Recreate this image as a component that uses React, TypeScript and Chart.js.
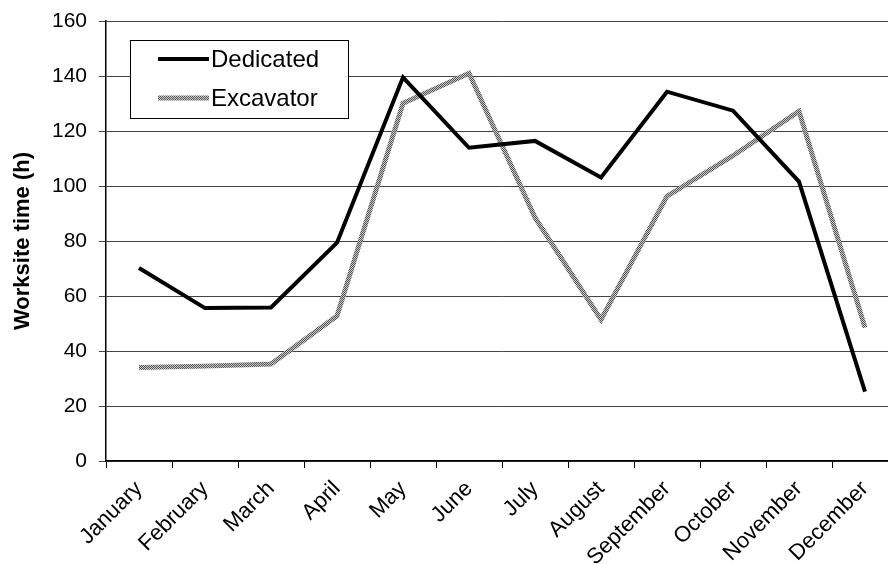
import React, { useEffect, useRef } from "react";
import Chart from "chart.js/auto";

const months = ["January", "February", "March", "April", "May", "June", "July", "August", "September", "October", "November", "December"];
const dedicated = [70.2, 55.6, 55.8, 79.4, 139.5, 113.9, 116.4, 103.1, 134.3, 127.4, 101.6, 25.2];
const excavator = [34.0, 34.5, 35.3, 52.7, 130.1, 141.0, 88.5, 51.4, 96.3, 111.0, 127.2, 48.5];
const yTicks = [0, 20, 40, 60, 80, 100, 120, 140, 160];
const seriesLabels = ["Dedicated", "Excavator"];
const yTitle = "Worksite time (h)";

const FONT = "'Liberation Sans', Arial, sans-serif";

function makePattern(): CanvasPattern | string {
  const c = document.createElement("canvas");
  c.width = 2;
  c.height = 2;
  const ctx = c.getContext("2d");
  if (!ctx) return "#999";
  ctx.fillStyle = "#c8c8c8";
  ctx.fillRect(0, 0, 2, 2);
  ctx.fillStyle = "#555";
  ctx.fillRect(0, 0, 1, 1);
  ctx.fillRect(1, 1, 1, 1);
  const p = ctx.createPattern(c, "repeat");
  return p || "#999";
}

const legendBox = {
  id: "legendBox",
  afterDraw(chart: any) {
    const ctx = chart.ctx;
    const area = chart.chartArea;
    const x0 = area.left + 24;
    const y0 = area.top + 19;
    const w = 218;
    const h = 78;
    ctx.save();
    ctx.fillStyle = "#fff";
    ctx.fillRect(x0, y0, w, h);
    ctx.strokeStyle = "#000";
    ctx.lineWidth = 1;
    ctx.strokeRect(x0 + 0.5, y0 + 0.5, w, h);
    const rows = [y0 + 19, y0 + 58];
    chart.data.datasets.forEach((ds: any, i: number) => {
      ctx.beginPath();
      ctx.moveTo(x0 + 28, rows[i]);
      ctx.lineTo(x0 + 79, rows[i]);
      ctx.strokeStyle = ds.borderColor;
      ctx.lineWidth = ds.borderWidth;
      ctx.stroke();
      ctx.fillStyle = "#000";
      ctx.font = `24px ${FONT}`;
      ctx.textBaseline = "middle";
      ctx.textAlign = "left";
      ctx.fillText(ds.label, x0 + 81, rows[i] + 1);
    });
    ctx.restore();
  },
};

export default function App() {
  const ref = useRef<HTMLCanvasElement>(null);
  useEffect(() => {
    if (!ref.current) return;
    const pattern = makePattern();
    const chart = new Chart(ref.current, {
      type: "line",
      data: {
        labels: months,
        datasets: [
          {
            label: seriesLabels[0],
            data: dedicated,
            borderColor: "#000",
            borderWidth: 4,
            pointRadius: 0,
            tension: 0,
            fill: false,
          },
          {
            label: seriesLabels[1],
            data: excavator,
            borderColor: pattern as any,
            borderWidth: 5,
            pointRadius: 0,
            tension: 0,
            fill: false,
          },
        ],
      },
      options: {
        animation: false,
        responsive: false,
        devicePixelRatio: 1,
        layout: { padding: { top: 21, right: 2, left: 0, bottom: 0 } },
        plugins: { legend: { display: false }, tooltip: { enabled: false } },
        scales: {
          x: {
            type: "category",
            offset: true,
            grid: { offset: true, drawOnChartArea: false, drawTicks: true, tickLength: 7, color: "#000", lineWidth: 1 },
            border: { color: "#000", width: 1.5 },
            ticks: {
              minRotation: 45,
              maxRotation: 45,
              autoSkip: false,
              color: "#000",
              padding: 8,
              font: { family: FONT, size: 22 },
            },
            afterFit: (s: any) => {
              s.height = 103;
              s.paddingLeft = 0;
              s.paddingRight = 0;
            },
          },
          y: {
            min: 0,
            max: 160,
            afterBuildTicks: (s: any) => {
              s.ticks = yTicks.map((v) => ({ value: v }));
            },
            grid: { color: "#444", lineWidth: 1, tickLength: 7, drawTicks: true },
            border: { color: "#000", width: 1.5 },
            ticks: {
              color: "#000",
              padding: 12,
              font: { family: FONT, size: 21 },
            },
            title: {
              display: true,
              text: yTitle,
              color: "#000",
              font: { family: FONT, size: 22, weight: "bold" },
              padding: { top: 10, bottom: 0 },
            },
            afterFit: (s: any) => {
              s.width = 106;
              s.paddingTop = 0;
              s.paddingBottom = 0;
            },
          },
        },
      },
      plugins: [legendBox],
    });
    return () => chart.destroy();
  }, []);
  return (
    <div style={{ position: "fixed", left: 0, top: 0, width: 888, height: 564, overflow: "hidden", background: "#fff" }}>
      <canvas ref={ref} width={900} height={564} style={{ display: "block" }} />
    </div>
  );
}
